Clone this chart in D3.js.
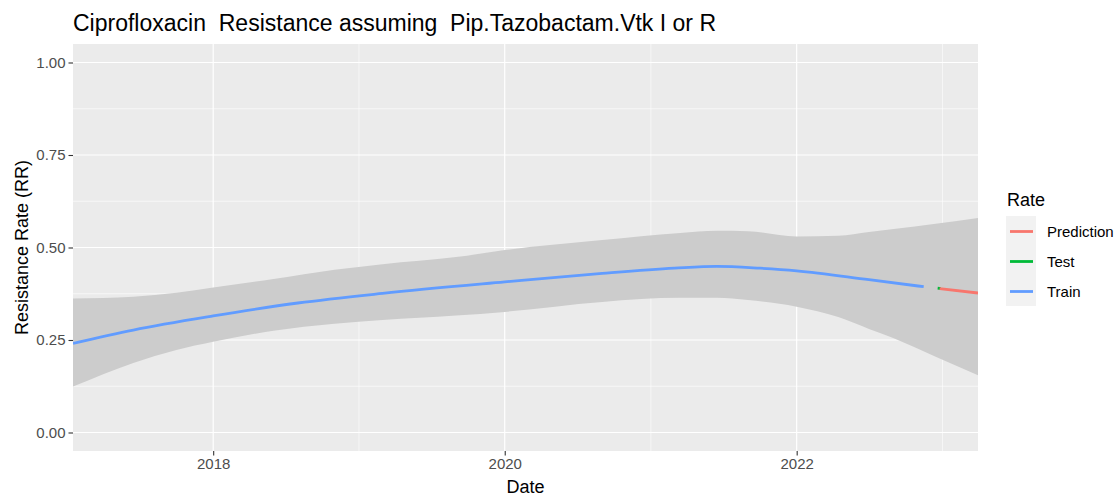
<!DOCTYPE html>
<html>
<head>
<meta charset="utf-8">
<script src="https://cdn.jsdelivr.net/npm/d3@7"></script>
<style>
  body { margin: 0; background: #fff; }
  text { font-family: "Liberation Sans", Arial, sans-serif; }
</style>
</head>
<body>
<svg id="chart"></svg>
<script>
// Ribbon (confidence band)
const bandDates = ["2017-01-15", "2017-06-15", "2017-10-01", "2018-01-01", "2018-06-01", "2018-11-01",
    "2019-03-01", "2019-09-01", "2020-01-01", "2020-09-01", "2021-03-15", "2021-06-15",
    "2021-09-01", "2022-01-01", "2022-04-15", "2022-07-01", "2022-09-01", "2022-12-15", "2023-03-31"];
const bandLower = [0.124, 0.188, 0.223, 0.245, 0.275, 0.294, 0.304, 0.316, 0.326, 0.353, 0.364, 0.364,
    0.358, 0.340, 0.312, 0.280, 0.255, 0.205, 0.155];
const bandUpper = [0.362, 0.367, 0.378, 0.392, 0.415, 0.440, 0.455, 0.474, 0.493, 0.520, 0.539, 0.545,
    0.544, 0.530, 0.532, 0.542, 0.550, 0.564, 0.580];

// Rate series
const trainDates = ["2017-01-15", "2017-06-15", "2018-01-01", "2018-08-01", "2019-03-01", "2020-01-01",
    "2020-09-01", "2021-03-01", "2021-06-15", "2021-10-01", "2022-01-01", "2022-07-01", "2022-11-15"];
const trainValues = [0.241, 0.277, 0.315, 0.350, 0.376, 0.407, 0.430, 0.444, 0.449, 0.444, 0.437, 0.413, 0.394];
const testDates = ["2022-12-20", "2022-12-28"];
const testValues = [0.390, 0.389];
const predDates = ["2022-12-25", "2023-03-31"];
const predValues = [0.389, 0.377];

const seriesNames = ["Prediction", "Test", "Train"];
const seriesColors = ["#F8766D", "#00BA38", "#619CFF"];

const yTicks = [0, 0.25, 0.5, 0.75, 1];
const yMinor = [0.125, 0.375, 0.625, 0.875];
const xTickYears = [2018, 2020, 2022];
const xMinorYears = [2019, 2021, 2023];

const W = 1120, H = 499;
const margin = { left: 73, right: 142, top: 44, bottom: 48 };
const parse = d3.timeParse("%Y-%m-%d");

const svg = d3.select("#chart").attr("width", W).attr("height", H);

const x = d3.scaleTime()
    .domain([parse("2017-01-15"), parse("2023-03-31")])
    .range([margin.left, W - margin.right]);
const y = d3.scaleLinear()
    .domain([-0.05, 1.05])
    .range([H - margin.bottom, margin.top]);

// panel
svg.append("rect")
    .attr("x", margin.left).attr("y", margin.top)
    .attr("width", W - margin.left - margin.right)
    .attr("height", H - margin.top - margin.bottom)
    .attr("fill", "#EBEBEB");

svg.append("clipPath").attr("id", "clip").append("rect")
    .attr("x", margin.left).attr("y", margin.top)
    .attr("width", W - margin.left - margin.right)
    .attr("height", H - margin.top - margin.bottom);

const panel = svg.append("g").attr("clip-path", "url(#clip)");

// grid lines
panel.selectAll(".ymin").data(yMinor).join("line")
    .attr("x1", margin.left).attr("x2", W - margin.right)
    .attr("y1", d => y(d)).attr("y2", d => y(d))
    .attr("stroke", "#fff").attr("stroke-width", 0.6);
panel.selectAll(".xmin").data(xMinorYears).join("line")
    .attr("x1", d => x(new Date(d, 0, 1))).attr("x2", d => x(new Date(d, 0, 1)))
    .attr("y1", margin.top).attr("y2", H - margin.bottom)
    .attr("stroke", "#fff").attr("stroke-width", 0.6);
panel.selectAll(".ymaj").data(yTicks).join("line")
    .attr("x1", margin.left).attr("x2", W - margin.right)
    .attr("y1", d => y(d)).attr("y2", d => y(d))
    .attr("stroke", "#fff").attr("stroke-width", 1.2);
panel.selectAll(".xmaj").data(xTickYears).join("line")
    .attr("x1", d => x(new Date(d, 0, 1))).attr("x2", d => x(new Date(d, 0, 1)))
    .attr("y1", margin.top).attr("y2", H - margin.bottom)
    .attr("stroke", "#fff").attr("stroke-width", 1.2);

// ribbon
const band = bandDates.map((d, i) => ({ date: parse(d), lo: bandLower[i], hi: bandUpper[i] }));
panel.append("path")
    .datum(band)
    .attr("fill", "#CCCCCC")
    .attr("d", d3.area()
        .curve(d3.curveMonotoneX)
        .x(d => x(d.date))
        .y0(d => y(d.lo))
        .y1(d => y(d.hi)));

// lines
const line = d3.line().curve(d3.curveMonotoneX).x(d => x(d.date)).y(d => y(d.v));
const series = [
    { name: "Train", dates: trainDates, values: trainValues },
    { name: "Test", dates: testDates, values: testValues },
    { name: "Prediction", dates: predDates, values: predValues }
];
series.forEach(s => {
    const pts = s.dates.map((d, i) => ({ date: parse(d), v: s.values[i] }));
    panel.append("path")
        .datum(pts)
        .attr("fill", "none")
        .attr("stroke", seriesColors[seriesNames.indexOf(s.name)])
        .attr("stroke-width", 2.8)
        .attr("d", line);
});

// axes
const yAxis = svg.append("g")
    .attr("transform", `translate(${margin.left},0)`)
    .call(d3.axisLeft(y).tickValues(yTicks).tickFormat(d3.format(".2f")).tickSize(4.5).tickPadding(3));
const xAxis = svg.append("g")
    .attr("transform", `translate(0,${H - margin.bottom})`)
    .call(d3.axisBottom(x).tickValues(xTickYears.map(d => new Date(d, 0, 1)))
        .tickFormat(d3.timeFormat("%Y")).tickSize(4.5).tickPadding(3));
[xAxis, yAxis].forEach(a => {
    a.select(".domain").remove();
    a.selectAll(".tick line").attr("stroke", "#333").attr("stroke-width", 1.1);
    a.selectAll(".tick text").attr("fill", "#4D4D4D")
        .style("font-size", "15px").style("font-family", "'Liberation Sans', Arial, sans-serif");
});

// titles
svg.append("text")
    .attr("x", 73).attr("y", 31)
    .style("font-size", "23px").attr("fill", "#000")
    .text("Ciprofloxacin  Resistance assuming  Pip.Tazobactam.Vtk I or R")
    .attr("xml:space", "preserve").style("white-space", "pre");

svg.append("text")
    .attr("x", (margin.left + W - margin.right) / 2).attr("y", 493)
    .attr("text-anchor", "middle")
    .style("font-size", "18px").attr("fill", "#000")
    .text("Date");

svg.append("text")
    .attr("transform", `translate(28,${(margin.top + H - margin.bottom) / 2}) rotate(-90)`)
    .attr("text-anchor", "middle")
    .style("font-size", "18px").attr("fill", "#000")
    .text("Resistance Rate (RR)");

// legend
const legend = svg.append("g").attr("transform", "translate(1006,216)");
legend.append("text").attr("x", 1).attr("y", -10)
    .style("font-size", "18px").attr("fill", "#000").text("Rate");
seriesNames.forEach((name, i) => {
    const g = legend.append("g").attr("transform", `translate(0,${i * 30})`);
    g.append("rect").attr("width", 30).attr("height", 30).attr("fill", "#F2F2F2");
    g.append("line").attr("x1", 4).attr("x2", 27).attr("y1", 15.5).attr("y2", 15.5)
        .attr("stroke", seriesColors[i]).attr("stroke-width", 2.8);
    g.append("text").attr("x", 41).attr("y", 21)
        .style("font-size", "15px").attr("fill", "#000").text(name);
});
</script>
</body>
</html>
